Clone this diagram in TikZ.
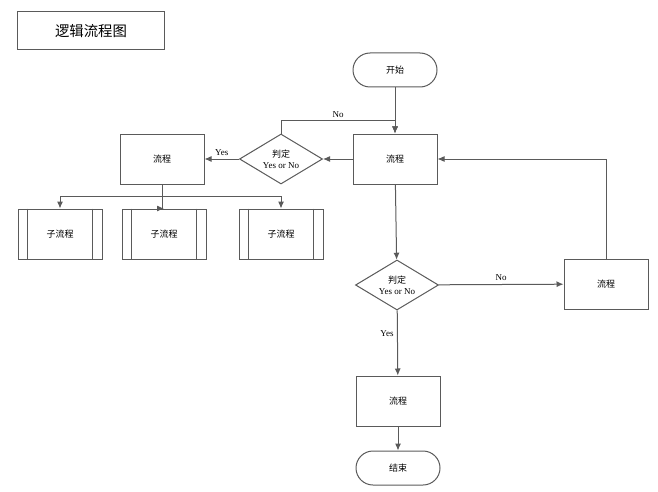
\documentclass[tikz,border=0pt]{standalone}
\usepackage{fontspec}
\setmainfont{Liberation Serif}
\newfontfamily\cjk{Noto Sans CJK SC}
\usetikzlibrary{shapes.geometric,positioning,arrows.meta}
\definecolor{linegray}{RGB}{90,90,90}
\begin{document}
\begin{tikzpicture}[x=1pt,y=-1pt,->,>={Latex[length=7pt,width=6pt]},line width=1pt,draw=linegray,
    proc/.style={rectangle,draw=linegray,minimum width=84pt,minimum height=50pt,font=\cjk\small},
    term/.style={rectangle,rounded corners=17pt,draw=linegray,minimum width=84pt,minimum height=34pt,font=\cjk\small},
    decide/.style={diamond,draw=linegray,aspect=1.65,minimum width=83pt,minimum height=50pt,inner sep=0pt,align=center,font=\small},
    sub/.style={proc},
    lbl/.style={font=\small,text=black}]
\useasboundingbox (0,0) rectangle (658,492);
\node[rectangle,draw=linegray,minimum width=147pt,minimum height=38pt,font=\cjk\Large] (title) at (91,31) {逻辑流程图};
\node[term] (start) at (395,70) {开始};
\node[proc] (p1) at (395,159) {流程};
\node[decide] (d1) at (281,159) {{\cjk 判定}\\Yes or No};
\node[proc] (pl) at (162,159) {流程};
\node[sub] (s1) at (60,234) {子流程};
\node[sub] (s2) at (164,234) {子流程};
\node[sub] (s3) at (281,234) {子流程};
\node[decide] (d2) at (397,285) {{\cjk 判定}\\Yes or No};
\node[proc] (pr) at (606,284) {流程};
\node[proc] (pb) at (398,401) {流程};
\node[term] (end) at (398,468) {结束};
% side bars of sub-processes
\foreach \s in {s1,s2,s3}
  \draw[-] ([xshift=10pt]\s.north west) -- ([xshift=10pt]\s.south west)
           ([xshift=-10pt]\s.north east) -- ([xshift=-10pt]\s.south east);
\coordinate (bend) at (395,121);
\coordinate (fork) at (162,196);
\path[draw=linegray]
  (start) edge (p1)
  (p1) edge (d1)
  (d1) edge node[lbl,above]{Yes} (pl)
  (p1) edge (d2)
  (d2) edge node[lbl,above]{No} (pr)
  (d2) edge node[lbl,left,pos=0.35]{Yes} (pb)
  (pb) edge (end);
\draw (d1.north) |- node[lbl,above,pos=0.75]{No} (bend) -- (p1.north);
\draw (pr.north) |- (p1.east);
\draw[-] (pl.south) -- (fork);
\draw (fork) -| (s1.north);
\draw (fork) -- (s2.north -| fork) -- (s2.north);
\draw (fork) -| (s3.north);
\end{tikzpicture}
\end{document}
